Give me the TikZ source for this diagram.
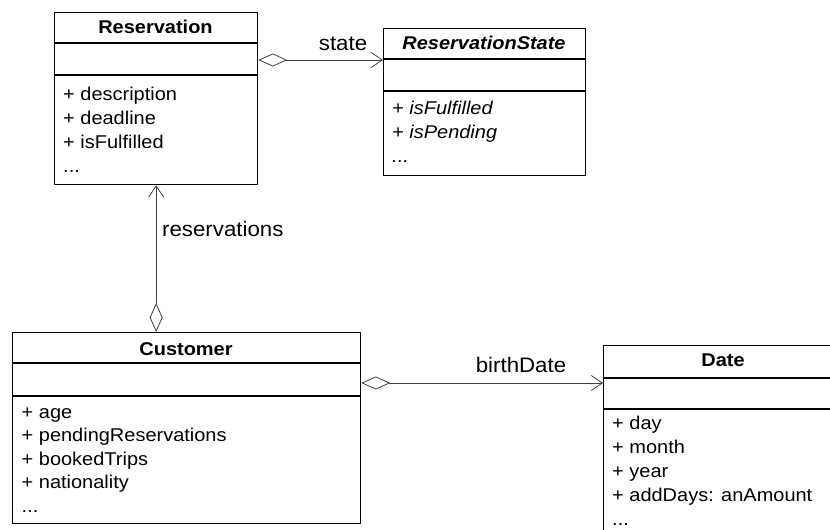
\documentclass[tikz,border=0pt]{standalone}
\usepackage{fontspec}
\setmainfont{Liberation Sans}
\newfontfamily\classfont[FakeStretch=1.08]{Liberation Sans}
\newfontfamily\labelfont[FakeStretch=1.06]{Liberation Sans}
\usetikzlibrary{arrows.meta}
\definecolor{linkgray}{HTML}{404040}
% three dots for elided members (kept out of \foreach's range syntax)
\newcommand\moremembers{.\kern0pt.\kern0pt.}
\tikzset{
  classbox/.style={draw=black, line width=1.3pt, inner sep=0pt, anchor=north west, fill=white},
  sepline/.style={draw=black, line width=1.2pt},
  cname/.style={anchor=base, inner sep=0pt, font=\classfont\fontsize{18.5}{22}\selectfont\bfseries},
  attr/.style={anchor=base west, inner sep=0pt, font=\classfont\fontsize{18.5}{22}\selectfont},
  role/.style={anchor=base, inner sep=0pt, font=\labelfont\fontsize{21}{25}\selectfont},
  aggr/.style={draw=linkgray, line width=0.8pt,
    {Diamond[length=29pt,width=13pt,fill=white]}-{Straight Barb[length=11pt,width=15pt]}},
}
\begin{document}
\begin{tikzpicture}[x=1pt,y=-1pt]
\useasboundingbox (0,0) rectangle (830,530);
\clip (0,0) rectangle (830,530);
\fill[white] (0,0) rectangle (830,530);

% ---- class boxes ----
\node[classbox, minimum width=203pt, minimum height=172pt] (res) at (54,12) {};
\node[classbox, minimum width=202pt, minimum height=147pt] (rst) at (383,28) {};
\node[classbox, minimum width=348pt, minimum height=191pt] (cust) at (12,332) {};
\node[classbox, minimum width=240pt, minimum height=220pt] (date) at (603,345) {};

% compartment separators
\foreach \b/\a/\c in {res/31/63, rst/31/63, cust/31/64, date/33/64} {
  \draw[sepline] ([yshift=-\a pt]\b.north west) -- ([yshift=-\a pt]\b.north east);
  \draw[sepline] ([yshift=-\c pt]\b.north west) -- ([yshift=-\c pt]\b.north east);
}

% ---- class names ----
\node[cname] (resName) at (155.5,33.5) {Reservation};
\node[cname] (rstName) at (484,49) {\itshape ReservationState};
\node[cname] (custName) at (186,355) {Customer};
\node[cname] (dateName) at (723,366) {Date};

% ---- attributes ----
\foreach \t [count=\i] in {+ description, + deadline, + isFulfilled, \moremembers}
  \node[attr] (resAttr\i) at (63,{100+24*(\i-1)}) {\t};
\foreach \t [count=\i] in {+ isFulfilled, + isPending, \moremembers}
  \node[attr] (rstAttr\i) at (392,{114+24*(\i-1)}) {\itshape\t};
\foreach \t [count=\i] in {+ age, + pendingReservations, + bookedTrips, + nationality, \moremembers}
  \node[attr] (custAttr\i) at (21.5,{418+23.6*(\i-1)}) {\t};
\foreach \t [count=\i] in {+ day, + month, + year, + addDays: anAmount, \moremembers}
  \node[attr] (dateAttr\i) at (612,{429+24*(\i-1)}) {\t};

% ---- associations ----
\draw[aggr] ([yshift=-48pt]res.north east) -- ([yshift=-48pt]res.north east -| rst.west);
\draw[aggr] (res.south |- cust.north) -- (res.south);
\draw[aggr] ([yshift=-51pt]cust.north east) -- ([yshift=-51pt]cust.north east -| date.west);

% ---- role names ----
\node[role] (stateLbl) at (343,50) {state};
\node[role, anchor=base west] (resvLbl) at (162,236) {reservations};
\node[role] (birthLbl) at (521,372) {birthDate};
\end{tikzpicture}
\end{document}
